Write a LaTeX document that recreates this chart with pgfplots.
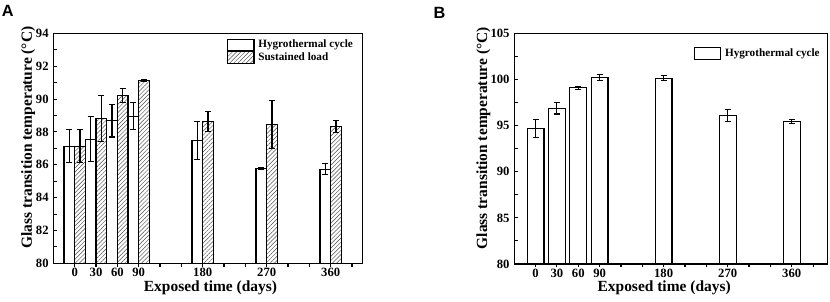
\documentclass[border=0pt]{standalone}
\usepackage{fontspec}
\setmainfont{Liberation Serif}
\newfontfamily\panelfont{Liberation Sans}
\usepackage{pgfplots}
\pgfplotsset{compat=1.18}
\usepackage{pgfplotstable}
\usetikzlibrary{patterns.meta}

% Panel A: hygrothermal cycle
\pgfplotstableread{
day val err
0   87.14 1.00
30  87.55 1.37
60  88.69 1.00
90  88.96 0.83
180 87.47 1.15
270 85.80 0.06
360 85.73 0.35
}\Ahyg
% Panel A: sustained load
\pgfplotstableread{
day val err
0   87.14 1.00
30  88.81 1.41
60  90.24 0.43
90  91.14 0.05
180 88.62 0.60
270 88.44 1.45
360 88.32 0.35
}\Aload
% Panel B: hygrothermal cycle
\pgfplotstableread{
day val err
0   94.69 1.00
30  96.86 0.60
60  99.09 0.16
90  100.20 0.29
180 100.15 0.25
270 96.10 0.65
360 95.45 0.20
}\Bhyg

\begin{document}
\begin{tikzpicture}
\useasboundingbox (0,0) rectangle (622.5pt,225.75pt);
\pgfplotsset{
  common/.style={
    scale only axis, anchor=south west, enlargelimits=false,
    axis line style={line width=0.9pt},
    every tick/.style={black, line width=0.8pt},
    major tick length=2.6pt, minor tick length=2.6pt,
    tick align=inside, xtick pos=bottom, ytick pos=left,
    /pgf/number format/assume math mode=true,
    ticklabel style={font=\fontsize{9.5}{11}\selectfont\bfseries},
    xticklabel style={yshift=2.6pt},
    label style={font=\fontsize{11.6}{13}\selectfont\bfseries},
    xtick={0,30,60,90,180,270,360},
    minor xtick={120,150,210,240,300,330,390},
    xmin=-30, ymin=80, ybar,
    legend image code/.code={\draw[#1] (0pt,-4.35pt) rectangle (20pt,4.35pt);},
    legend cell align=left,
    legend style={draw=none, fill=none, inner sep=0pt, row sep=0pt,
      font=\fontsize{8.4}{9}\selectfont\bfseries, nodes={inner sep=0.4pt},
      /tikz/every odd column/.append style={column sep=2.4pt}},
    xlabel={Exposed time (days)},
    ylabel={Glass transition temperature (\textdegree C)},
  },
  barsty/.style={draw=black, fill=white, line width=0.8pt,
    /pgfplots/error bars/y dir=both,
    /pgfplots/error bars/y explicit,
    /pgfplots/error bars/error bar style={line width=0.8pt, black},
    /pgfplots/error bars/error mark options={rotate=90, mark size=2.2pt, line width=0.8pt, black}},
}
\begin{axis}[common,
  at={(40pt,28.25pt)}, width=232pt, height=172.5pt,
  xmax=405, ymax=94,
  ytick={80,82,...,94}, minor ytick={81,83,...,93},
  bar width=15,
  xlabel style={at={(axis description cs:0.508,-0.105)}, anchor=center},
  ylabel style={at={(axis description cs:-0.081,0.547)}, anchor=center},
  legend style={at={(axis description cs:0.56,0.978)}, anchor=north west},
]
\addplot[barsty, bar shift=-7.5] table[x=day, y=val, y error=err] {\Ahyg};
\addlegendentry{Hygrothermal cycle}
\addplot[barsty, bar shift=7.5, postaction={pattern={Lines[angle=45,distance=2.2pt,line width=0.35pt]}, pattern color=black!70}] table[x=day, y=val, y error=err] {\Aload};
\addlegendentry{Sustained load}
\end{axis}

\begin{axis}[common,
  at={(385.7pt,27.75pt)}, width=234.75pt, height=173pt,
  xmax=410, ymax=105,
  ytick={80,85,...,105}, minor ytick={82.5,87.5,...,102.5},
  bar width=23.5,
  xlabel style={at={(axis description cs:0.479,-0.104)}, anchor=center},
  ylabel style={at={(axis description cs:-0.099,0.545)}, anchor=center},
  legend style={at={(axis description cs:0.572,0.942)}, anchor=north west},
]
\addplot[barsty, bar shift=0] table[x=day, y=val, y error=err] {\Bhyg};
\addlegendentry{Hygrothermal cycle}
\end{axis}

\node[anchor=north west, inner sep=0pt, font=\panelfont\bfseries\fontsize{12.2}{14}\selectfont] at (1.3pt,222pt) {A};
\node[anchor=north west, inner sep=0pt, font=\panelfont\bfseries\fontsize{12.2}{14}\selectfont] at (325pt,220.7pt) {B};
\end{tikzpicture}
\end{document}
